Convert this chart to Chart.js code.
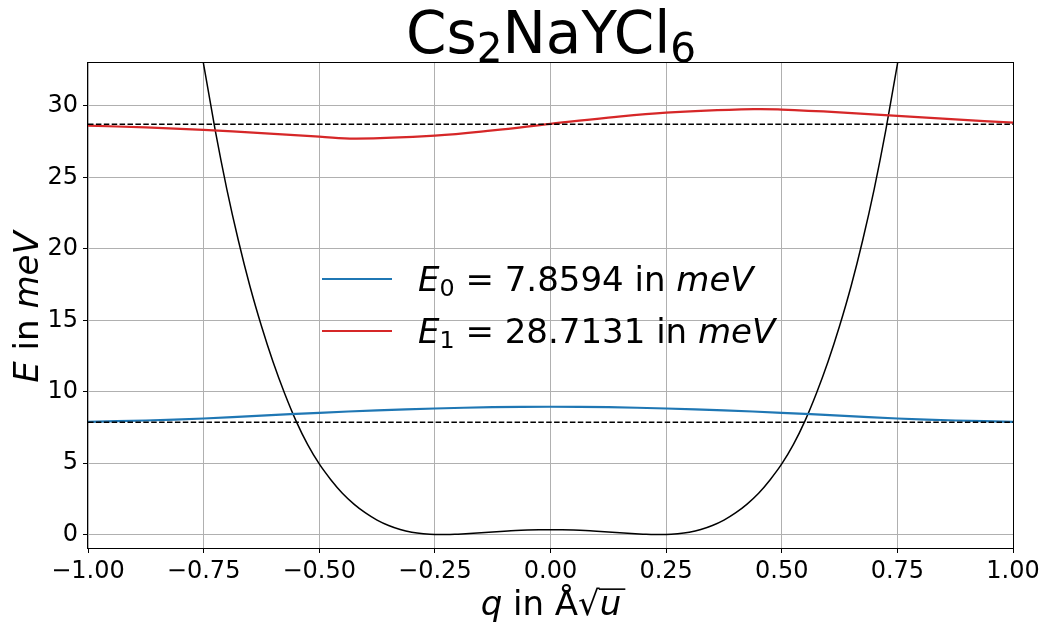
<!DOCTYPE html>
<html>
<head>
<meta charset="utf-8">
<script src="https://cdn.jsdelivr.net/npm/chart.js@4.4.0/dist/chart.umd.min.js"></script>
<style>
  html, body { margin: 0; padding: 0; background: #fff; }
  #wrap { width: 1042px; height: 628px; }
</style>
</head>
<body>
<div id="wrap"><canvas id="chart" width="1042" height="628"></canvas></div>
<script>
// ===== Values =====
const E0 = 7.8594;
const E1 = 28.7131;

// double-well potential V(q) in meV
const qPot = [-0.775, -0.75, -0.725, -0.7, -0.675, -0.65, -0.625, -0.6, -0.575, -0.55, -0.525, -0.5,
  -0.475, -0.45, -0.425, -0.4, -0.375, -0.35, -0.325, -0.3, -0.275, -0.25, -0.225, -0.2, -0.175, -0.15,
  -0.125, -0.1, -0.075, -0.05, -0.025, 0, 0.025, 0.05, 0.075, 0.1, 0.125, 0.15, 0.175, 0.2, 0.225, 0.25,
  0.275, 0.3, 0.325, 0.35, 0.375, 0.4, 0.425, 0.45, 0.475, 0.5, 0.525, 0.55, 0.575, 0.6, 0.625, 0.65,
  0.675, 0.7, 0.725, 0.75, 0.775];
const vPot = [38.0, 32.9, 28.3, 24.2, 20.6, 17.4, 14.6, 12.1, 9.9, 7.95, 6.3, 4.95,
  3.85, 2.9, 2.14, 1.52, 1.02, 0.64, 0.36, 0.17, 0.06, 0.01, 0.01, 0.04, 0.08, 0.13,
  0.19, 0.25, 0.30, 0.33, 0.345, 0.35, 0.345, 0.33, 0.30, 0.25, 0.19, 0.13, 0.08, 0.04, 0.01, 0.01,
  0.06, 0.17, 0.36, 0.64, 1.02, 1.52, 2.14, 2.9, 3.85, 4.95, 6.3, 7.95, 9.9, 12.1, 14.6, 17.4,
  20.6, 24.2, 28.3, 32.9, 38.0];

// ground state, drawn shifted to E0
const qPsi0 = [-1, -0.875, -0.75, -0.625, -0.5, -0.375, -0.25, -0.125, 0, 0.125, 0.25, 0.375, 0.5, 0.625, 0.75, 0.875, 1];
const psi0 = [7.90, 7.99, 8.13, 8.33, 8.53, 8.70, 8.83, 8.92, 8.95, 8.92, 8.83, 8.70, 8.53, 8.33, 8.13, 7.99, 7.90];

// first excited state, drawn shifted to E1
const qPsi1 = [-1, -0.875, -0.75, -0.625, -0.5, -0.42, -0.25, -0.125, 0, 0.125, 0.25, 0.44, 0.5, 0.625, 0.75, 0.875, 1];
const psi1 = [28.62, 28.49, 28.32, 28.09, 27.85, 27.71, 27.92, 28.28, 28.74, 29.18, 29.53, 29.77, 29.74, 29.55, 29.30, 29.05, 28.83];

const xTicks = [-1, -0.75, -0.5, -0.25, 0, 0.25, 0.5, 0.75, 1];
const xTickLabels = ['\u22121.00', '\u22120.75', '\u22120.50', '\u22120.25', '0.00', '0.25', '0.50', '0.75', '1.00'];
const yTicks = [0, 5, 10, 15, 20, 25, 30];
const yTickLabels = ['0', '5', '10', '15', '20', '25', '30'];

const FONT = '"DejaVu Sans", "Liberation Sans", sans-serif';

// ===== Text runs with italics / subscripts =====
function runFont(style, size) {
  if (style === 'i') return `italic ${size}px ${FONT}`;
  if (style === 's') return `${size * 0.7}px ${FONT}`;
  return `${size}px ${FONT}`;
}

function runsWidth(ctx, runs, size) {
  let w = 0;
  runs.forEach(([t, s]) => { ctx.font = runFont(s, size); w += ctx.measureText(t).width; });
  return w;
}

// draws runs starting at x (or centred on x), returns x positions of each run
function drawRuns(ctx, runs, x, y, size, center) {
  let cx = center ? x - runsWidth(ctx, runs, size) / 2 : x;
  const pos = [];
  ctx.textAlign = 'left';
  ctx.textBaseline = 'alphabetic';
  runs.forEach(([t, s]) => {
    ctx.font = runFont(s, size);
    const w = ctx.measureText(t).width;
    ctx.fillText(t, cx, s === 's' ? y + size * 0.16 : y);
    pos.push([cx, cx + w]);
    cx += w;
  });
  return pos;
}

const overlay = {
  id: 'overlay',
  afterDraw(chart) {
    const ctx = chart.ctx;
    const a = chart.chartArea;
    ctx.save();

    // frame on all four sides
    ctx.strokeStyle = '#000';
    ctx.lineWidth = 1;
    ctx.strokeRect(Math.round(a.left) - 0.5, Math.round(a.top) - 0.5,
      Math.round(a.right - a.left) + 1, Math.round(a.bottom - a.top) + 1);

    ctx.fillStyle = '#000';
    // title
    drawRuns(ctx, [['Cs', 'n'], ['2', 's'], ['NaYCl', 'n'], ['6', 's']], 551, 53, 58, true);

    // x label: q in Å√u
    const xr = drawRuns(ctx, [['q', 'i'], [' in \u00c5', 'n'], ['\u221a', 'n'], ['u', 'i']], 551, 615, 34, true);
    ctx.lineWidth = 1.6;
    ctx.beginPath();
    ctx.moveTo(xr[2][1] - 1, 615 - 34 * 0.76);
    ctx.lineTo(xr[3][1] + 4, 615 - 34 * 0.76);
    ctx.stroke();

    // y label: E in meV
    ctx.save();
    ctx.translate(38, 307);
    ctx.rotate(-Math.PI / 2);
    drawRuns(ctx, [['E', 'i'], [' in ', 'n'], ['meV', 'i']], 0, 0, 34, true);
    ctx.restore();

    // legend (no frame)
    const rows = [
      { color: '#1f77b4', y: 279, runs: [['E', 'i'], ['0', 's'], [' = 7.8594 in ', 'n'], ['meV', 'i']] },
      { color: '#d62728', y: 331, runs: [['E', 'i'], ['1', 's'], [' = 28.7131 in ', 'n'], ['meV', 'i']] }
    ];
    rows.forEach(r => {
      ctx.strokeStyle = r.color;
      ctx.lineWidth = 2;
      ctx.beginPath();
      ctx.moveTo(322, r.y);
      ctx.lineTo(392, r.y);
      ctx.stroke();
      ctx.fillStyle = '#000';
      drawRuns(ctx, r.runs, 418, r.y + 12, 34, false);
    });
    ctx.restore();
  }
};

const pts = (xs, ys) => xs.map((x, i) => ({ x: x, y: ys[i] }));

const tickFont = { family: FONT, size: 24 };

new Chart(document.getElementById('chart').getContext('2d'), {
  type: 'line',
  data: {
    datasets: [
      { data: pts(qPot, vPot), borderColor: '#000', borderWidth: 1.5, pointRadius: 0,
        cubicInterpolationMode: 'monotone', order: 4 },
      { data: pts(qPsi0, psi0), borderColor: '#1f77b4', borderWidth: 2.2, pointRadius: 0,
        tension: 0.4, order: 3 },
      { data: pts(qPsi1, psi1), borderColor: '#d62728', borderWidth: 2.2, pointRadius: 0,
        tension: 0.4, order: 2 },
      { data: [{ x: -1, y: E0 }, { x: 1, y: E0 }], borderColor: '#000', borderWidth: 1.5,
        borderDash: [5.5, 2.4], pointRadius: 0, order: 1 },
      { data: [{ x: -1, y: E1 }, { x: 1, y: E1 }], borderColor: '#000', borderWidth: 1.5,
        borderDash: [5.5, 2.4], pointRadius: 0, order: 1 }
    ]
  },
  options: {
    responsive: false,
    animation: false,
    devicePixelRatio: 1,
    layout: { padding: { left: 0, right: 29, top: 63, bottom: 0 } },
    plugins: { legend: { display: false }, title: { display: false }, tooltip: { enabled: false } },
    scales: {
      x: {
        type: 'linear', min: -1, max: 1,
        afterBuildTicks: s => { s.ticks = xTicks.map(v => ({ value: v })); },
        afterFit: s => { s.height = 80; s.paddingLeft = 0; s.paddingRight = 0; },
        ticks: { callback: (v, i) => xTickLabels[i], color: '#000', font: tickFont, padding: 4,
                 maxRotation: 0, autoSkip: false },
        grid: { color: '#b0b0b0', lineWidth: 1, tickColor: '#000', tickLength: 5 },
        border: { display: false }
      },
      y: {
        type: 'linear', min: -0.93, max: 33.0,
        afterBuildTicks: s => { s.ticks = yTicks.map(v => ({ value: v })); },
        afterFit: s => { s.width = 88; s.paddingTop = 0; s.paddingBottom = 0; },
        ticks: { callback: (v, i) => yTickLabels[i], color: '#000', font: tickFont, padding: 5,
                 autoSkip: false },
        grid: { color: '#b0b0b0', lineWidth: 1, tickColor: '#000', tickLength: 5 },
        border: { display: false }
      }
    }
  },
  plugins: [overlay]
});
</script>
</body>
</html>
